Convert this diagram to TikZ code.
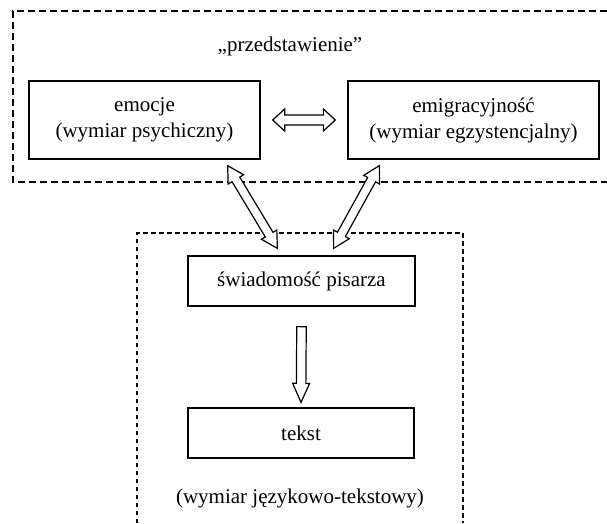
\documentclass[tikz,border=0pt]{standalone}
\usepackage{fontspec}
\setmainfont{Liberation Serif}
\usetikzlibrary{calc}

\tikzset{
  box/.style={draw, line width=1.3pt, inner sep=0pt, align=center},
  frame/.style={line width=1.4pt, dash pattern=on 7pt off 4pt},
  blockarrow/.style={draw, line width=1.2pt, fill=white, line join=miter},
}

% hollow arrow, heads at both ends: from, to, head length, head half-width, shaft half-width
\newcommand{\dblarrow}[5]{%
  \draw[blockarrow] (#1)
    -- ($(#1)!#3!(#2)!#4!90:(#2)$) -- ($(#1)!#3!(#2)!#5!90:(#2)$)
    -- ($(#2)!#3!(#1)!#5!-90:(#1)$) -- ($(#2)!#3!(#1)!#4!-90:(#1)$)
    -- (#2)
    -- ($(#2)!#3!(#1)!#4!90:(#1)$) -- ($(#2)!#3!(#1)!#5!90:(#1)$)
    -- ($(#1)!#3!(#2)!#5!-90:(#2)$) -- ($(#1)!#3!(#2)!#4!-90:(#2)$)
    -- cycle;}

% hollow arrow, one head: from, to, head length, head half-width, shaft half-width
\newcommand{\sglarrow}[5]{%
  \draw[blockarrow] ($(#1)!#5!90:(#2)$)
    -- ($(#2)!#3!(#1)!#5!-90:(#1)$) -- ($(#2)!#3!(#1)!#4!-90:(#1)$)
    -- (#2)
    -- ($(#2)!#3!(#1)!#4!90:(#1)$) -- ($(#2)!#3!(#1)!#5!90:(#1)$)
    -- ($(#1)!#5!-90:(#2)$) -- cycle;}

\begin{document}
\begin{tikzpicture}[x=1pt, y=-1pt, font=\fontsize{21}{26}\selectfont]

\useasboundingbox (0,0) rectangle (607,523);

% Dashed frames
\draw[frame] (607,11) -- (13,11) -- (13,182) -- (607,182);
\draw[frame, dash pattern=on 4.5pt off 3.5pt, line width=1.2pt]
  (137,523) -- (137,233) -- (463,233) -- (463,523);

% Upper part
\node (title) at (290,46) {„przedstawienie”};
\node[box, minimum width=231pt, minimum height=78pt] (emo) at (144.5,120)
  {emocje\\(wymiar psychiczny)};
\node[box, minimum width=251pt, minimum height=78pt] (emi) at (473.5,120)
  {emigracyjność\\(wymiar egzystencjalny)};

% Lower part
\node[box, minimum width=227pt, minimum height=50pt] (swi) at (301.5,281)
  {świadomość pisarza};
\node[box, minimum width=226pt, minimum height=50pt] (tek) at (301,433)
  {tekst};
\node (dim) at (300,498) {(wymiar językowo-tekstowy)};

% Arrow ends
\coordinate (h1) at ($(emo.east)+(12,0)$);
\coordinate (h2) at ($(emi.west)+(-12,0)$);
\coordinate (d1) at ($(emo.south east)+(-33,6)$);
\coordinate (d2) at ($(swi.north west)+(90,-7)$);
\coordinate (d3) at ($(emi.south west)+(32,6)$);
\coordinate (d4) at ($(swi.north east)+(-82,-7)$);
\coordinate (v1) at ($(swi.south)+(0,20)$);
\coordinate (v2) at ($(tek.north)+(0,-5)$);

% Arrows
\dblarrow{h1}{h2}{12pt}{11pt}{5pt}
\dblarrow{d1}{d2}{16pt}{9pt}{4.5pt}
\dblarrow{d3}{d4}{16pt}{9pt}{4.5pt}
\sglarrow{v1}{v2}{19pt}{8.5pt}{4.75pt}

\end{tikzpicture}
\end{document}
